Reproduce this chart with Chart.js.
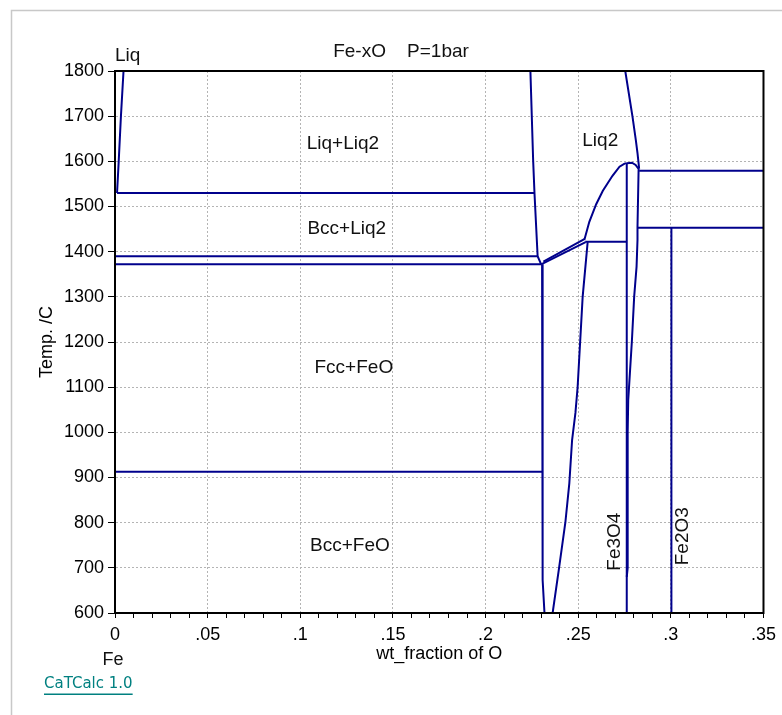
<!DOCTYPE html>
<html>
<head>
<meta charset="utf-8">
<script src="https://cdn.jsdelivr.net/npm/chart.js@4.4.1/dist/chart.umd.min.js"></script>
<style>
html,body{margin:0;padding:0;background:#fff;}
canvas{display:block;}
</style>
</head>
<body>
<canvas id="c" width="782" height="715"></canvas>
<script>
// ---- phase boundary data: [wt fraction O, temperature C] ----
const liqLiquidus   = [[0.0011,1530],[0.0020,1600],[0.0032,1700],[0.0046,1800]];
const liq2Left      = [[0.2242,1800],[0.2257,1600],[0.2264,1530],[0.2281,1390],[0.2300,1372]];
const iso1530       = [[0.0011,1530],[0.2264,1530]];
const iso1390       = [[0.0,1390],[0.2281,1390]];
const iso1372       = [[0.0,1372],[0.2300,1372]];
const iso913        = [[0.0,913],[0.2308,913]];
const monotecticLow = [[0.2300,1372],[0.2540,1421]];
const monotecticUp  = [[0.2312,1378],[0.2533,1428]];
const wustiteLeft   = [[0.2305,1372],[0.2308,913],[0.2308,673],[0.2318,600]];
const wustiteRight  = [[0.2551,1421],[0.2524,1300],[0.2497,1101],[0.2485,1043],[0.2467,983],[0.2452,887],[0.2431,802],[0.2395,695],[0.2362,600]];
const iso1422       = [[0.2538,1422],[0.2762,1422]];
const liq2Curve     = [[0.2533,1426],[0.2560,1466],[0.2597,1505],[0.2633,1535],[0.2685,1568],[0.2723,1588],[0.2750,1595],[0.2762,1596]];
const magnetiteLeft = [[0.2762,1596],[0.2762,600]];
const magnetiteRight= [[0.2762,1596],[0.2790,1597],[0.2810,1592],[0.2826,1583],[0.2820,1455],[0.2820,1426],[0.2815,1367],[0.2802,1300],[0.2790,1204],[0.2779,1131],[0.2770,1072],[0.2767,1000],[0.2767,700],[0.2762,680]];
const liq2Right     = [[0.2754,1800],[0.2793,1699],[0.2811,1647],[0.2820,1618],[0.2829,1584]];
const iso1579       = [[0.2829,1579],[0.35,1579]];
const iso1453       = [[0.2820,1453],[0.35,1453]];
const hematite      = [[0.3003,1453],[0.3003,600]];

const boundaries = [liqLiquidus, liq2Left, iso1530, iso1390, iso1372, iso913, monotecticLow, monotecticUp,
  wustiteLeft, wustiteRight, iso1422, liq2Curve, magnetiteLeft, magnetiteRight, liq2Right, iso1579, iso1453, hematite];

// ---- region labels (data coordinates) ----
const regionLabels = ['Liq+Liq2','Liq2','Bcc+Liq2','Fcc+FeO','Bcc+FeO'];
const regionLabelX = [0.1230, 0.2619, 0.1251, 0.1289, 0.1268];
const regionLabelT = [1640, 1645, 1450, 1142, 748];
const phaseLabels  = ['Fe3O4','Fe2O3'];
const phaseLabelX  = [0.2696, 0.3066];
const phaseLabelT  = [758, 770];

// ---- axes ----
const xMin = 0, xMax = 0.35, xMinorStep = 0.01, xMajorStep = 0.05;
const yMin = 600, yMax = 1800, yStep = 100;
const titleText = 'Fe-xO    P=1bar';
const xTitle = 'wt_fraction of O';
const yTitle = 'Temp. /C';

const NAVY = 'rgb(0,0,140)';
const FONT = '"Liberation Sans", Arial, sans-serif';
const GRID = '#b4b4b4';

function isMajorX(v){ const r = v / xMajorStep; return Math.abs(r - Math.round(r)) < 1e-6; }
function fmtX(v){ if (Math.abs(v) < 1e-9) return '0'; return String(Math.round(v*100)/100).replace(/^0/, ''); }

const annot = {
  id: 'annot',
  beforeDraw(chart){
    const ctx = chart.ctx;
    ctx.save();
    ctx.fillStyle = '#fff';
    ctx.fillRect(0,0,chart.width,chart.height);
    ctx.strokeStyle = '#c8c8c8';
    ctx.lineWidth = 1.5;
    ctx.beginPath();
    ctx.moveTo(11.5, chart.height);
    ctx.lineTo(11.5, 10.5);
    ctx.lineTo(chart.width, 10.5);
    ctx.stroke();
    ctx.restore();
  },
  afterDraw(chart){
    const ctx = chart.ctx, a = chart.chartArea;
    const xs = chart.scales.x, ys = chart.scales.y;
    ctx.save();
    // frame
    ctx.strokeStyle = '#000';
    ctx.lineWidth = 2;
    ctx.strokeRect(a.left, a.top, a.right - a.left, a.bottom - a.top);
    // texts
    ctx.fillStyle = '#111';
    ctx.textBaseline = 'middle';
    ctx.textAlign = 'center';
    ctx.font = '19px ' + FONT;
    regionLabels.forEach((t,i) => {
      ctx.fillText(t, xs.getPixelForValue(regionLabelX[i]), ys.getPixelForValue(regionLabelT[i]));
    });
    phaseLabels.forEach((t,i) => {
      ctx.save();
      ctx.translate(xs.getPixelForValue(phaseLabelX[i]), ys.getPixelForValue(phaseLabelT[i]));
      ctx.rotate(-Math.PI/2);
      ctx.fillText(t, 0, 0);
      ctx.restore();
    });
    // title
    ctx.fillText(titleText, 401, a.top - 19);
    // Liq above plot
    ctx.textAlign = 'left';
    ctx.fillText('Liq', a.left, a.top - 15.5);
    // Fe under 0
    ctx.textAlign = 'center';
    ctx.font = '18px ' + FONT;
    ctx.fillText('Fe', xs.getPixelForValue(0) - 2, 660);
    // CaTCalc
    ctx.textAlign = 'left';
    ctx.fillStyle = 'rgb(0,128,128)';
    ctx.font = '15px "DejaVu Sans", sans-serif';
    ctx.fillText('CaTCalc 1.0', 44, 684);
    const w = ctx.measureText('CaTCalc 1.0').width;
    ctx.fillRect(44, 693.5, w, 1.5);
    ctx.restore();
  }
};

new Chart(document.getElementById('c'), {
  type: 'scatter',
  data: {
    datasets: boundaries.map(pts => ({
      data: pts.map(p => ({x: p[0], y: p[1]})),
      showLine: true, pointRadius: 0, pointHoverRadius: 0,
      borderColor: NAVY, borderWidth: 2, tension: 0, fill: false
    }))
  },
  options: {
    responsive: false,
    animation: false,
    devicePixelRatio: 1,
    events: [],
    layout: { padding: { left: 0, top: 71, right: 18, bottom: 47 } },
    plugins: { legend: { display: false }, title: { display: false }, tooltip: { enabled: false } },
    scales: {
      x: {
        type: 'linear', min: xMin, max: xMax,
        afterFit(s){ s.height = 55; },
        afterBuildTicks(s){
          const t = [];
          for (let i = 0; i <= Math.round((xMax - xMin)/xMinorStep); i++) t.push({value: Math.round((xMin + i*xMinorStep)*100)/100});
          s.ticks = t;
        },
        ticks: {
          autoSkip: false, maxRotation: 0, minRotation: 0, padding: 6,
          color: '#000', font: { family: FONT, size: 18 },
          callback: v => isMajorX(v) ? fmtX(v) : ''
        },
        grid: {
          color: c => (c.tick && isMajorX(c.tick.value)) ? GRID : 'rgba(0,0,0,0)',
          tickColor: '#000', tickLength: 5, lineWidth: 1, tickWidth: 1
        },
        border: { display: true, color: '#000', width: 2, dash: [2,2] },
        title: { display: true, text: xTitle, color: '#000', font: { family: FONT, size: 18 }, padding: { top: 0, bottom: 3 } }
      },
      y: {
        type: 'linear', min: yMin, max: yMax,
        afterFit(s){ s.width = 115; },
        ticks: { stepSize: yStep, padding: 4, color: '#000', font: { family: FONT, size: 18 }, callback: v => String(v) },
        grid: { color: GRID, tickColor: '#000', tickLength: 7, lineWidth: 1, tickWidth: 1 },
        border: { display: true, color: '#000', width: 2, dash: [2,2] },
        title: { display: true, text: yTitle, color: '#000', font: { family: FONT, size: 18 }, padding: { top: 36, bottom: 0 } }
      }
    }
  },
  plugins: [annot]
});
</script>
</body>
</html>
